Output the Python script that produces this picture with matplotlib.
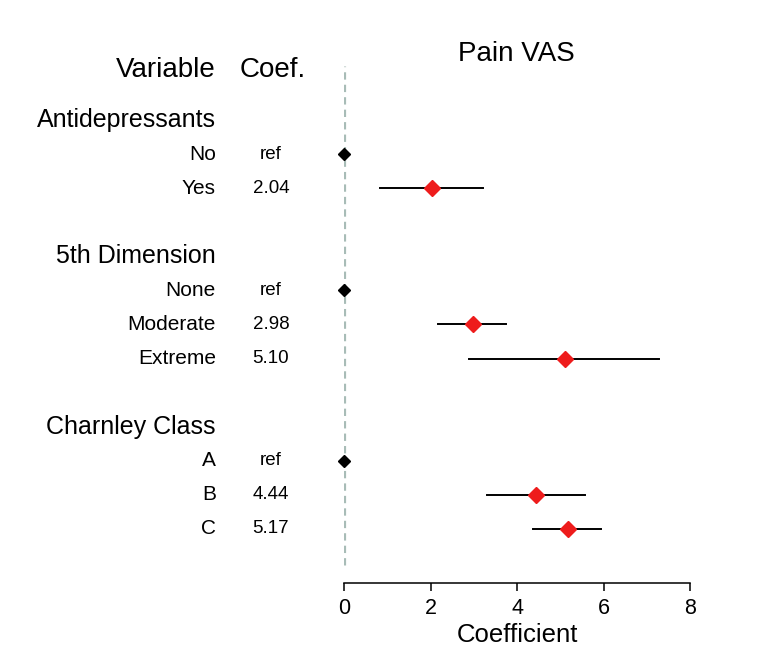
import matplotlib
matplotlib.use('Agg')
import matplotlib.pyplot as plt
import matplotlib.transforms as mtransforms

plt.rcParams['font.family'] = ['Liberation Sans', 'DejaVu Sans']

# datos del modelo
grupos = ['Antidepressants', '5th Dimension', 'Charnley Class']
niveles = [['No', 'Yes'], ['None', 'Moderate', 'Extreme'], ['A', 'B', 'C']]
coefs = [[0, 2.04], [0, 2.98, 5.10], [0, 4.44, 5.17]]
ic_bajo = [[None, 0.83], [None, 2.18, 2.90], [None, 3.30, 4.38]]
ic_alto = [[None, 3.22], [None, 3.75, 7.29], [None, 5.57, 5.94]]
xticks = [0, 2, 4, 6, 8]

rojo = '#EE1C1C'
gris = '#A8BCB7'

fig = plt.figure(figsize=(7.84, 6.66), dpi=100)
ax = fig.add_axes([344 / 784, 1 - 583 / 666, 346 / 784, 543 / 666])
ax.set_xlim(0, 8)
ax.set_ylim(13.59, -2.35)

# columnas de texto: x en figura, y en datos
trans = mtransforms.blended_transform_factory(fig.transFigure, ax.transData)
x_var = 216 / 784
x_coef = 271 / 784

ax.axvline(0, ymin=(13.59 - 13.05) / 15.94, ymax=(13.59 + 1.6) / 15.94,
           color=gris, lw=2.3, ls=(0, (2.3, 1.6)), zorder=1)

ax.text(x_var, -1.47, 'Variable', transform=trans, ha='right', va='center', fontsize=20)
ax.text(273 / 784, -1.47, 'Coef.', transform=trans, ha='center', va='center', fontsize=20)
ax.text(3.98, -1.95, 'Pain VAS', ha='center', va='center', fontsize=20)

fila = 0
for g, nombre in enumerate(grupos):
    ax.text(x_var, fila, nombre, transform=trans, ha='right', va='center',
            fontsize=18, clip_on=False)
    fila += 1
    for i, nivel in enumerate(niveles[g]):
        c = coefs[g][i]
        ax.text(x_var, fila, nivel, transform=trans, ha='right', va='center',
                fontsize=15, clip_on=False)
        if ic_bajo[g][i] is None:
            ax.text(x_coef, fila, 'ref', transform=trans, ha='center', va='center', fontsize=13.5)
            ax.plot([c], [fila], marker='D', color='black', ms=5.8, ls='none',
                    zorder=4, clip_on=False)
        else:
            ax.text(x_coef, fila, f'{c:.2f}', transform=trans, ha='center', va='center', fontsize=13.5)
            ax.plot([ic_bajo[g][i], ic_alto[g][i]], [fila, fila], color='black', lw=1.4, zorder=2)
            ax.plot([c], [fila], marker='D', color=rojo, ms=8.6, ls='none', zorder=3)
        fila += 1
    fila += 1

for lado in ['top', 'right', 'left']:
    ax.spines[lado].set_visible(False)
ax.spines['bottom'].set_linewidth(1.1)
ax.set_yticks([])
ax.set_xticks(xticks)
ax.tick_params(axis='x', length=6, width=1.1, labelsize=15.5, pad=5)
ax.set_xlabel('Coefficient', fontsize=18.5, labelpad=3)

fig.savefig('out.png', dpi=100)
